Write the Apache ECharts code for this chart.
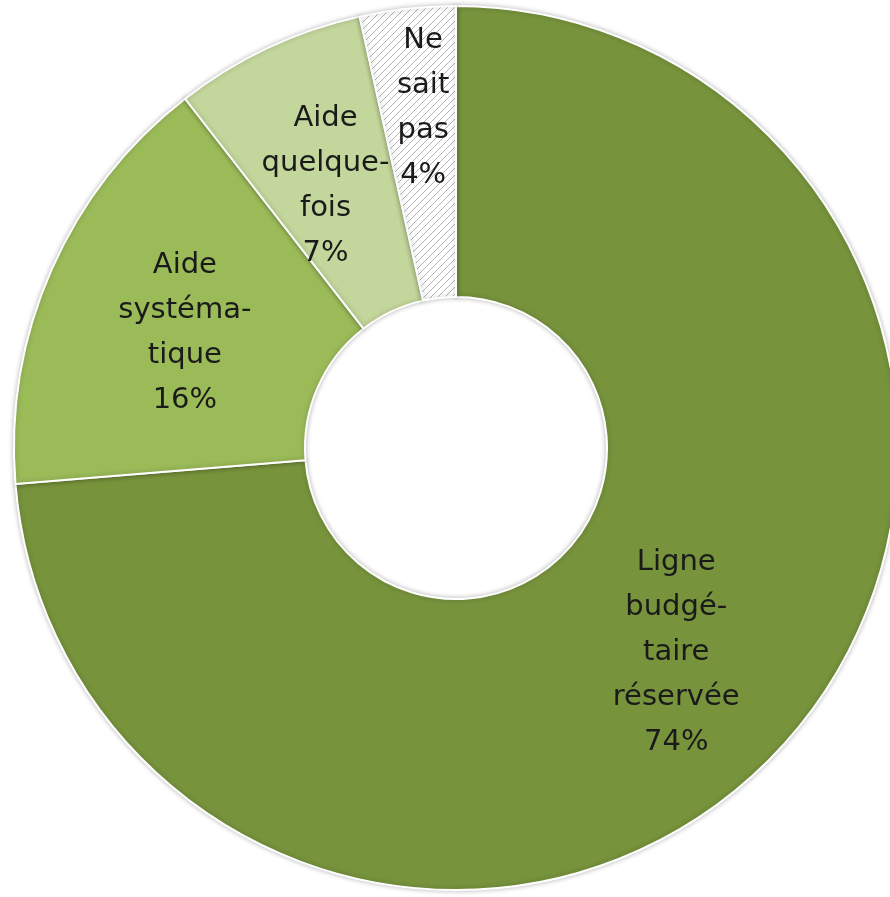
<!DOCTYPE html>
<html>
<head>
<meta charset="utf-8">
<script src="https://cdn.jsdelivr.net/npm/echarts@6/dist/echarts.min.js"></script>
<style>
html,body{margin:0;padding:0;background:#fff;}
#chart{width:890px;height:897px;}
</style>
</head>
<body>
<div id="chart"></div>
<script>
// Data
var categories = ["Ligne budgétaire réservée", "Aide systématique", "Aide quelquefois", "Ne sait pas"];
var labelTexts = ["Ligne\nbudgé-\ntaire\nréservée", "Aide\nsystéma-\ntique", "Aide\nquelque-\nfois", "Ne\nsait\npas"];
var values = [73.7, 15.8, 7.0, 3.5];

// Styling (kept apart from data)
var sliceStyles = [
  {color: '#77933C', labelOffset: [0, 2]},
  {color: '#9BBB59', labelOffset: [3, 6]},
  {color: '#C3D69B', labelOffset: [-3, 9]},
  {color: null, labelOffset: [0, -42]}
];

// Hatch pattern for "Ne sait pas"
function makeHatch() {
  var c = document.createElement('canvas');
  var s = 7;
  c.width = s; c.height = s;
  var ctx = c.getContext('2d');
  ctx.fillStyle = '#ffffff';
  ctx.fillRect(0, 0, s, s);
  ctx.strokeStyle = '#b4b4b4';
  ctx.lineWidth = 1;
  ctx.beginPath();
  ctx.moveTo(0, s); ctx.lineTo(s, 0);
  ctx.moveTo(-s/2, s/2); ctx.lineTo(s/2, -s/2);
  ctx.moveTo(s/2, s*1.5); ctx.lineTo(s*1.5, s/2);
  ctx.stroke();
  return c;
}
sliceStyles[3].color = {image: makeHatch(), repeat: 'repeat'};

var data = categories.map(function (name, i) {
  return {
    name: name,
    value: values[i],
    itemStyle: {color: sliceStyles[i].color},
    label: {offset: sliceStyles[i].labelOffset}
  };
});

var chart = echarts.init(document.getElementById('chart'), null, {renderer: 'canvas'});
chart.setOption({
  animation: false,
  backgroundColor: '#ffffff',
  series: [{
    type: 'pie',
    center: [456, 448],
    radius: [151, 442],
    startAngle: 90,
    clockwise: true,
    minShowLabelAngle: 0,
    avoidLabelOverlap: false,
    itemStyle: {
      borderColor: '#ffffff',
      borderWidth: 2,
      shadowColor: 'rgba(0,0,0,0.25)',
      shadowBlur: 5
    },
    label: {
      show: true,
      position: 'inside',
      fontFamily: 'DejaVu Sans',
      fontSize: 29,
      lineHeight: 45,
      color: '#1a1a1a',
      align: 'center',
      verticalAlign: 'middle',
      formatter: function (p) {
        return labelTexts[p.dataIndex] + '\n' + Math.round(p.value) + '%';
      }
    },
    labelLine: {show: false},
    emphasis: {disabled: true},
    data: data
  }]
});
</script>
</body>
</html>
